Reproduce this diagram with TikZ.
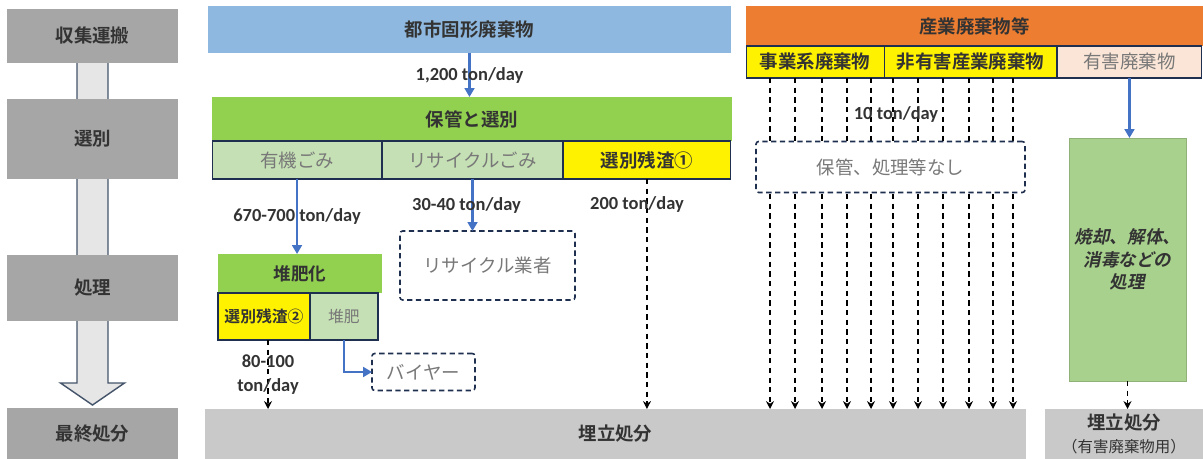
\documentclass[tikz,border=0pt]{standalone}
\usepackage{fontspec}
\setmainfont{Noto Sans CJK JP}[BoldFont=Noto Sans CJK JP Bold]
\newfontfamily\latfont{Carlito}
\newfontfamily\slantfont{Noto Sans CJK JP Bold}[FakeSlant=0.2]
\usepackage{xcolor}
\usepackage{tikz}
\usetikzlibrary{positioning,arrows.meta,backgrounds}

\definecolor{stagegray}{HTML}{A6A6A6}
\definecolor{darktext}{HTML}{333333}
\definecolor{greytext}{HTML}{787878}
\definecolor{skyblue}{HTML}{8EB8DF}
\definecolor{leafgreen}{HTML}{92D050}
\definecolor{palegreen}{HTML}{C5E0B4}
\definecolor{wasteorange}{HTML}{ED7D31}
\definecolor{peach}{HTML}{FBE5D6}
\definecolor{midgreen}{HTML}{A9D18E}
\definecolor{landgray}{HTML}{C9C9C9}
\definecolor{celledge}{HTML}{1F2F4F}
\definecolor{flowblue}{HTML}{4472C4}
\definecolor{arrowfill}{HTML}{E7E6E6}
\definecolor{arrowedge}{HTML}{44546A}
\newcommand\labelsize{\fontsize{10.5}{13}\selectfont}

\begin{document}
\begin{tikzpicture}
		[x=0.02cm,y=-0.02cm,
		every node/.style={inner sep=0pt,outer sep=0pt,align=center,font=\labelsize},
		stage/.style={fill=stagegray,text=darktext,font=\labelsize\bfseries,minimum width=3.42cm},
		head/.style={text=darktext,font=\labelsize\bfseries},
		cell/.style={draw=celledge,line width=0.6pt,minimum height=0.76cm},
		greencell/.style={cell,fill=palegreen,text=greytext},
		yellowcell/.style={cell,fill=yellow,text=darktext,font=\labelsize\bfseries},
		dashbox/.style={draw=celledge,line width=0.9pt,dash pattern=on 3pt off 2pt,rounded corners=1.5pt,fill=white,text=greytext},
		bigarrow/.style={fill=arrowfill,draw=arrowedge,line width=0.8pt},
		flow/.style={flowblue,line width=1.5pt,-{Triangle[length=5pt,width=5.5pt]}},
		dashflow/.style={black,line width=0.8pt,dash pattern=on 3pt off 2.5pt,-{Stealth[length=4.5pt,width=4.5pt]}},
		rate/.style={text=darktext,font=\latfont\fontsize{10.5}{13.5}\selectfont\bfseries}]
	\useasboundingbox (0,0) rectangle (1203,459);
	% stages on the left
	\node[stage,minimum height=1.08cm] (collect) at (92.5,36) {収集運搬};
	\node[stage,minimum height=1.6cm] (sort) at (92.5,139) {選別};
	\node[stage,minimum height=1.32cm] (treat) at (92.5,288) {処理};
	\node[stage,minimum height=1.02cm] (final) at (92.5,433.5) {最終処分};
	\begin{scope}[on background layer]
		\draw[bigarrow] ([xshift=-.31cm]collect.center) -- ([xshift=-.31cm,yshift=.5cm]final.north) -- ([xshift=-.64cm,yshift=.5cm]final.north) -- ([yshift=.06cm]final.north) -- ([xshift=.64cm,yshift=.5cm]final.north) -- ([xshift=.31cm,yshift=.5cm]final.north) -- ([xshift=.31cm]collect.center) -- cycle;
	\end{scope}
	% municipal waste
	\node[head,fill=skyblue,minimum width=10.46cm,minimum height=.94cm] (msw) at (469.5,29.5) {都市固形廃棄物};
	\node[head,fill=leafgreen,minimum width=10.4cm,minimum height=.88cm] (store) at (472,119) {保管と選別};
	\node[greencell,minimum width=3.4cm,below right=0pt of store.south west] (organic) {有機ごみ};
	\node[greencell,minimum width=3.62cm,right=0pt of organic] (recycle) {リサイクルごみ};
	\node[yellowcell,minimum width=3.36cm,right=0pt of recycle] (residue1) {選別残渣①};
	\node[head,fill=leafgreen,font=\fontsize{10}{12}\selectfont\bfseries,minimum width=3.28cm,minimum height=.78cm] (compost) at (300,273.5) {堆肥化};
	\node[yellowcell,font=\fontsize{9}{11}\selectfont\bfseries,minimum width=1.84cm,minimum height=.94cm,below right=0pt of compost.south west] (residue2) {選別残渣②};
	\node[greencell,font=\fontsize{9}{11}\selectfont,minimum width=1.36cm,minimum height=.94cm,right=0pt of residue2] (manure) {堆肥};
	\node[dashbox,minimum width=3.5cm,minimum height=1.38cm] (recycler) at (487.5,265.5) {リサイクル業者};
	\node[dashbox,minimum width=2.06cm,minimum height=.74cm] (buyer) at (423.5,372) {バイヤー};
	\node[head,fill=landgray,minimum width=16.42cm,minimum height=1cm] (landfill) at (615.5,434) {埋立処分};
	\draw[flow] (msw.south) -- node[rate]{1,200 ton/day} (msw.south |- store.north);
	\draw[flow] (organic.south) -- node[rate]{670-700 ton/day} (organic.south |- compost.north);
	\draw[flow] (recycle.south) -- node[rate,xshift=-.12cm]{30-40 ton/day} (recycle.south |- recycler.north);
	\draw[dashflow] (residue1.south) -- node[rate,pos=.11,xshift=-.2cm]{200 ton/day} (residue1.south |- landfill.north);
	\draw[dashflow] ([xshift=.08cm]residue2.south) -- node[rate]{80-100\\ton/day} ([xshift=.08cm]residue2.south |- landfill.north);
	\draw[flow] (manure.south) |- (buyer.west);
	% industrial waste
	\node[head,fill=wasteorange,minimum width=9.14cm,minimum height=.8cm] (industry) at (974.5,26) {産業廃棄物等};
	\node[yellowcell,minimum width=2.76cm,minimum height=.64cm,below right=0pt of industry.south west] (business) {事業系廃棄物};
	\node[yellowcell,minimum width=3.46cm,minimum height=.64cm,right=0pt of business] (nonhaz) {非有害産業廃棄物};
	\node[cell,fill=peach,text=greytext,minimum width=2.9cm,minimum height=.64cm,right=0pt of nonhaz] (hazard) {有害廃棄物};
	\foreach \x in {770,795,822,847,871}
		\draw[dashflow] (\x,0 |- business.south) -- (\x,0 |- landfill.north);
	\foreach \x in {893,918,943,969,993,1013}
		\draw[dashflow] (\x,0 |- nonhaz.south) -- (\x,0 |- landfill.north);
	\node[dashbox,minimum width=5.38cm,minimum height=1.02cm] (nostore) at (890.5,167) {保管、処理等なし};
	\node[rate] (tenrate) at (896,114) {10 ton/day};
	\node[fill=midgreen,draw=midgreen!85!black,line width=0.4pt,text=darktext,font=\slantfont\fontsize{10}{12.8}\selectfont,minimum width=2.34cm,minimum height=4.86cm] (incinerate) at (1127.5,259.5) {焼却、解体、\\消毒などの\\処理};
	\node[fill=landgray,text=darktext,minimum width=3.16cm,minimum height=1cm] (hazfill) at (1124,434) {\textbf{埋立処分}\\[0pt]{\fontsize{8.8}{10}\selectfont （有害廃棄物用）}};
	\draw[flow] (hazard.south) -- (hazard.south |- incinerate.north);
	\draw[dashflow] (incinerate.south) -- (incinerate.south |- hazfill.north);
\end{tikzpicture}
\end{document}
